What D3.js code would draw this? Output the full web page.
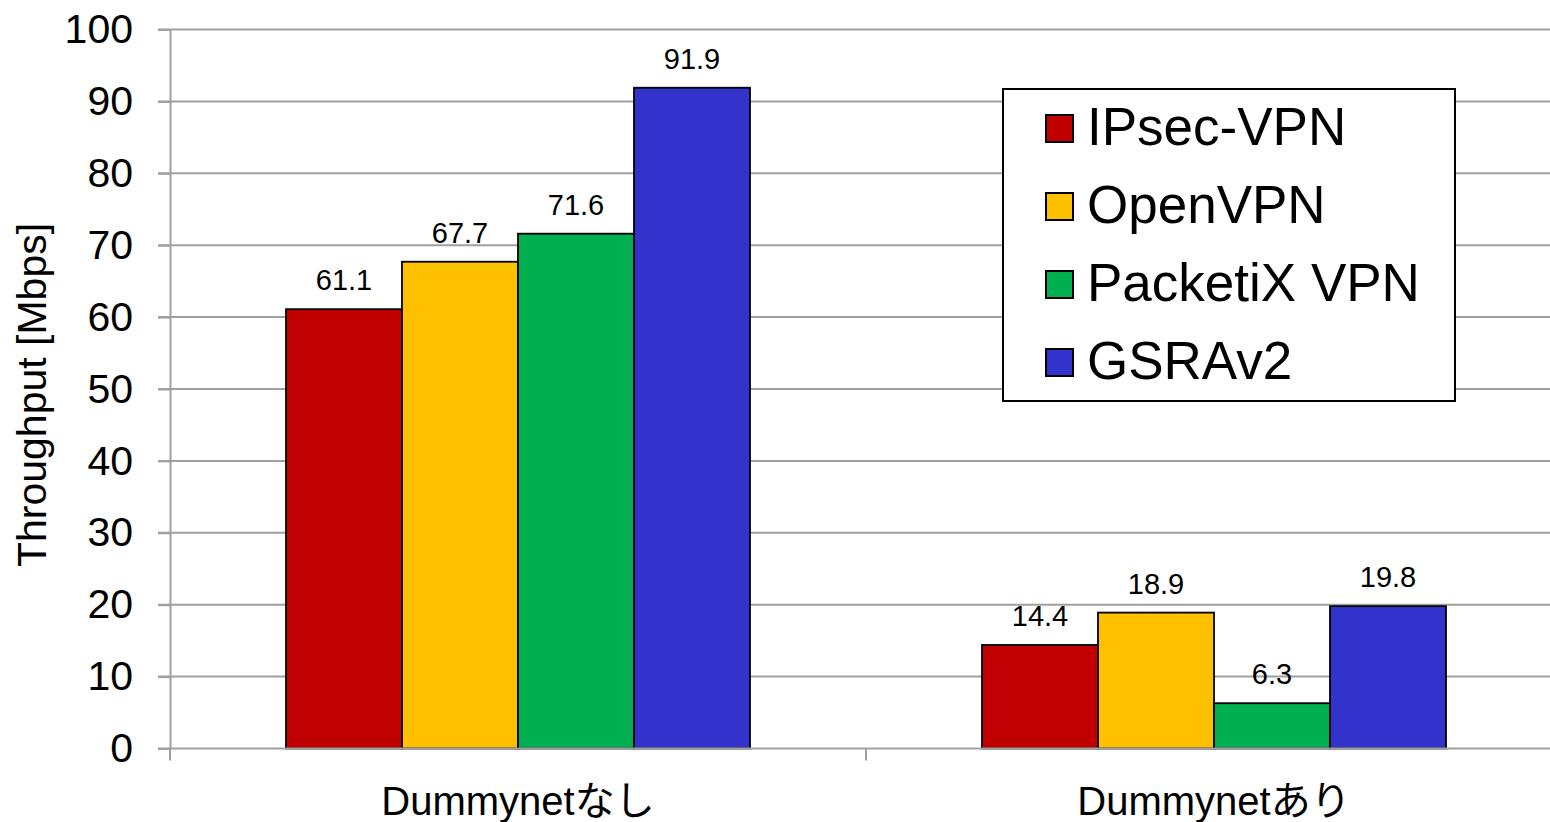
<!DOCTYPE html>
<html>
<head>
<meta charset="utf-8">
<script src="https://cdn.jsdelivr.net/npm/d3@7"></script>
<style>
  html, body { margin: 0; padding: 0; background: #fff; }
  svg { display: block; }
  text { font-family: "Liberation Sans", Arial, "Noto Sans CJK JP", sans-serif; fill: #000; }
</style>
</head>
<body>
<svg id="chart" width="1550" height="822"></svg>
<script>
const categories = ["Dummynetなし", "Dummynetあり"];
const seriesNames = ["IPsec-VPN", "OpenVPN", "PacketiX VPN", "GSRAv2"];
const seriesColors = ["#C00000", "#FFC000", "#00B050", "#3333CC"];
const ipsecValues = [61.1, 14.4];
const openvpnValues = [67.7, 18.9];
const packetixValues = [71.6, 6.3];
const gsrav2Values = [91.9, 19.8];
const yTicks = [0, 10, 20, 30, 40, 50, 60, 70, 80, 90, 100];
const yTitle = "Throughput [Mbps]";

const seriesValues = [ipsecValues, openvpnValues, packetixValues, gsrav2Values];
const data = categories.map((c, ci) => ({
  category: c,
  values: seriesNames.map((s, si) => ({ series: s, color: seriesColors[si], value: seriesValues[si][ci] }))
}));

const svg = d3.select("#chart");
const mLeft = 170, mRight = 1562, mTop = 29.5, mBottom = 748.5;

const x = d3.scaleBand().domain(categories).range([mLeft, mRight]).padding(0);
const bw = x.bandwidth();
const x1 = d3.scaleBand().domain(seriesNames).range([bw / 6, bw * 5 / 6]).padding(0);
const y = d3.scaleLinear().domain([0, 100]).range([mBottom, mTop]);

// gridlines
svg.append("g").selectAll("line").data(yTicks.filter(d => d > 0)).join("line")
  .attr("x1", mLeft - 12).attr("x2", mRight)
  .attr("y1", d => y(d)).attr("y2", d => y(d))
  .attr("stroke", "#a0a0a0").attr("stroke-width", 2);

// y axis
const yAxis = svg.append("g").attr("transform", `translate(${mLeft},0)`)
  .call(d3.axisLeft(y).tickValues(yTicks).tickSize(12).tickPadding(25).tickFormat(d3.format("d")));
yAxis.select(".domain").attr("stroke", "#a0a0a0").attr("stroke-width", 2);
yAxis.selectAll(".tick line").attr("stroke", "#a0a0a0").attr("stroke-width", 2);
yAxis.selectAll(".tick text").attr("font-size", 41).attr("font-family", '"Liberation Sans", Arial, sans-serif').attr("fill", "#000");

// bars
const groups = svg.append("g").selectAll("g").data(data).join("g")
  .attr("transform", d => `translate(${x(d.category)},0)`);
groups.selectAll("rect").data(d => d.values).join("rect")
  .attr("x", d => x1(d.series))
  .attr("width", x1.bandwidth())
  .attr("y", d => y(d.value))
  .attr("height", d => y(0) - y(d.value))
  .attr("fill", d => d.color)
  .attr("stroke", "#000").attr("stroke-width", 1.8);
groups.selectAll("text").data(d => d.values).join("text")
  .attr("x", d => x1(d.series) + x1.bandwidth() / 2)
  .attr("y", d => y(d.value) - 19)
  .attr("text-anchor", "middle")
  .attr("font-size", 29)
  .text(d => d3.format(".1f")(d.value));

// x axis
const xAxis = svg.append("g").attr("transform", `translate(0,${mBottom})`)
  .call(d3.axisBottom(x).tickValues([]).tickSize(0));
xAxis.select(".domain").attr("d", `M${mLeft - 12},0H${mRight}`).attr("stroke", "#a0a0a0").attr("stroke-width", 2);
const xTickPos = [mLeft, ...categories.map(c => x(c) + bw)];
svg.append("g").selectAll("line").data(xTickPos).join("line")
  .attr("x1", d => d).attr("x2", d => d)
  .attr("y1", mBottom).attr("y2", mBottom + 12)
  .attr("stroke", "#a0a0a0").attr("stroke-width", 2);
svg.append("g").selectAll("text").data(categories).join("text")
  .attr("x", d => x(d) + bw / 2)
  .attr("y", 815)
  .attr("text-anchor", "middle")
  .attr("font-size", 40)
  .text(d => d);

// y title
svg.append("text")
  .attr("transform", `translate(46,395) rotate(-90)`)
  .attr("text-anchor", "middle")
  .attr("font-size", 41)
  .text(yTitle);

// legend
const legend = svg.append("g");
legend.append("rect").attr("x", 1003).attr("y", 89).attr("width", 452).attr("height", 312)
  .attr("fill", "#fff").attr("stroke", "#000").attr("stroke-width", 2);
const legendRow = d3.scalePoint().domain(seriesNames).range([128, 362]);
const items = legend.selectAll("g.item").data(seriesNames).join("g").attr("class", "item")
  .attr("transform", d => `translate(1046,${legendRow(d)})`);
items.append("rect").attr("x", 0).attr("y", -13).attr("width", 27).attr("height", 27)
  .attr("fill", (d, i) => seriesColors[i]).attr("stroke", "#000").attr("stroke-width", 2);
items.append("text").attr("x", 41).attr("y", 17).attr("font-size", 53).text(d => d);
</script>
</body>
</html>
